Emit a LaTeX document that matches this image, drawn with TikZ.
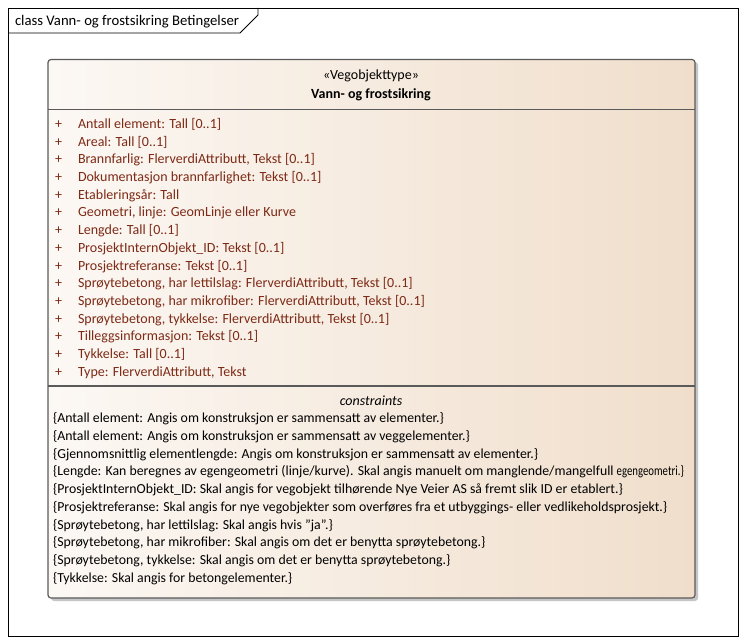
\documentclass[tikz,border=0pt]{standalone}
\usepackage{fontspec}
\setmainfont{Carlito}
\usetikzlibrary{calc}
\definecolor{attrcol}{RGB}{125,42,22}
\definecolor{boxleft}{RGB}{252,248,244}
\definecolor{boxright}{RGB}{240,222,203}
\definecolor{edgecol}{RGB}{90,90,90}
\newcommand{\fs}{\fontsize{14}{16}\selectfont}
\tikzset{
  txt/.style={anchor=base west, inner sep=0pt, outer sep=0pt, font=\fs},
  attr/.style={txt, text=attrcol},
  ctr/.style={anchor=base, inner sep=0pt, outer sep=0pt, font=\fs},
  cons/.style={txt, font=\fontsize{13.8}{16}\selectfont},
  frameline/.style={draw=black, line width=0.8pt},
}
\begin{document}
\begin{tikzpicture}[x=1pt,y=-1pt]
\useasboundingbox (0,0) rectangle (746,644);
\fill[white] (0,0) rectangle (746,644);
% frame
\draw[frameline] (8,8) rectangle (738,636);
\draw[frameline] (8,33) -- (240,33) -- (258,15) -- (258,8);
\node[txt, font=\fontsize{14.7}{16}\selectfont] (title) at (15,25.5) {class Vann- og frostsikring Betingelser};
% class box shadow
\fill[gray!45, rounded corners=3pt] (51,62) rectangle (698,601);
% class box
\shade[left color=boxleft, right color=boxright, rounded corners=3pt] (48,59.5) rectangle (695,598);
\draw[edgecol, line width=1.2pt, rounded corners=3pt] (48,59.5) rectangle (695,598);
\draw[edgecol, line width=1.2pt] (48,109.5) -- (695,109.5);
\draw[edgecol, line width=1.2pt] (48,386) -- (695,386);
% header
\node[ctr] (stereo) at (371,80) {«Vegobjekttype»};
\node[ctr, font=\fs\bfseries] (cname) at (371,98.5) {Vann- og frostsikring};
% attributes
\foreach \i/\t in {1/{Antall element: Tall [0..1]},
  2/{Areal: Tall [0..1]},
  3/{Brannfarlig: FlerverdiAttributt, Tekst [0..1]},
  4/{Dokumentasjon brannfarlighet: Tekst [0..1]},
  5/{Etableringsår: Tall},
  6/{Geometri, linje: GeomLinje eller Kurve},
  7/{Lengde: Tall [0..1]},
  8/{ProsjektInternObjekt\_ID: Tekst [0..1]},
  9/{Prosjektreferanse: Tekst [0..1]},
  10/{Sprøytebetong, har lettilslag: FlerverdiAttributt, Tekst [0..1]},
  11/{Sprøytebetong, har mikrofiber: FlerverdiAttributt, Tekst [0..1]},
  12/{Sprøytebetong, tykkelse: FlerverdiAttributt, Tekst [0..1]},
  13/{Tilleggsinformasjon: Tekst [0..1]},
  14/{Tykkelse: Tall [0..1]},
  15/{Type: FlerverdiAttributt, Tekst}}{
  \node[attr] (p\i) at (55,{128.5+(\i-1)*17.7}) {+};
  \node[attr] (a\i) at (78,{128.5+(\i-1)*17.7}) {\t};
}
% constraints
\node[ctr, font=\fs\itshape] (chead) at (371,405) {constraints};
\foreach \i/\t in {1/{\{Antall element: Angis om konstruksjon er sammensatt av elementer.\}},
  2/{\{Antall element: Angis om konstruksjon er sammensatt av veggelementer.\}},
  3/{\{Gjennomsnittlig elementlengde: Angis om konstruksjon er sammensatt av elementer.\}},
  4/{\{Lengde: Kan beregnes av egengeometri (linje/kurve). Skal angis manuelt om manglende/mangelfull \scalebox{0.78}[1]{egengeometri.\}}},
  5/{\{ProsjektInternObjekt\_ID: Skal angis for vegobjekt tilhørende Nye Veier AS så fremt slik ID er etablert.\}},
  6/{\{Prosjektreferanse: Skal angis for nye vegobjekter som overføres fra et utbyggings- eller vedlikeholdsprosjekt.\}},
  7/{\{Sprøytebetong, har lettilslag: Skal angis hvis \symbol{34}ja\symbol{34}.\}},
  8/{\{Sprøytebetong, har mikrofiber: Skal angis om det er benytta sprøytebetong.\}},
  9/{\{Sprøytebetong, tykkelse: Skal angis om det er benytta sprøytebetong.\}},
  10/{\{Tykkelse: Skal angis for betongelementer.\}}}{
  \node[cons] (c\i) at (53,{422.5+(\i-1)*17.75}) {\t};
}
\end{tikzpicture}
\end{document}
